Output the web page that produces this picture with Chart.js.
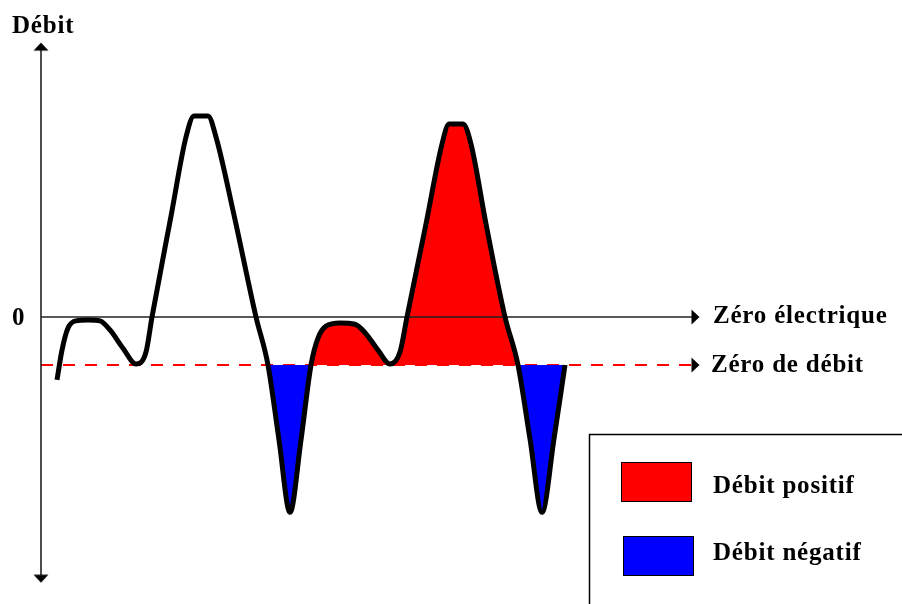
<!DOCTYPE html>
<html>
<head>
<meta charset="utf-8">
<script src="https://cdn.jsdelivr.net/npm/chart.js@4.4.1/dist/chart.umd.min.js"></script>
<style>
    html, body { margin: 0; padding: 0; background: #fff; }
    #wrap { width: 902px; height: 604px; position: relative; }
</style>
</head>
<body>
<div id="wrap"><canvas id="chart_debit"></canvas></div>
<script>
"use strict";

// time (arbitrary units) and flow (0 = zéro électrique, -1 = zéro de débit)
const curveTime = [1.6, 2.1, 2.7, 3.5, 4.7, 5.9, 6.9, 8.2, 9.5, 10.5, 11.1, 13.0, 14.5, 15.3, 16.7, 17.5, 19.3, 21.5,
    22.7, 23.8, 24.9, 26.0, 27.0, 27.7, 28.5, 29.9, 31.4, 32.5, 33.7, 34.9, 35.9, 36.6,
    38.5, 40.1, 40.8, 42.2, 43.0, 44.5, 46.4, 47.7, 48.9, 50.1, 51.3, 52.4];
const curveFlow = [-1.31, -0.69, -0.23, -0.08, -0.06, -0.08, -0.27, -0.65, -0.98, -0.73, 0, 2.10, 3.75, 4.19, 4.19, 3.75, 2.125, 0,
    -1, -2.56, -4.07, -2.56, -1, -0.44, -0.19, -0.125, -0.15, -0.35, -0.69, -0.98, -0.73, 0,
    1.94, 3.6, 4.02, 4.02, 3.6, 1.94, 0, -1, -2.54, -4.07, -2.54, -1];
const fillFrom = 18;          // the coloured zone starts at the first crossing of the zéro de débit

const zeroElec = 0;
const zeroDebit = -1;
const lineEnd = 65.1;         // end of both horizontal reference lines
const axisTop = 5.56;
const axisBottom = -5.38;

const labelAxis = "Débit";
const labelZero = "0";
const labelZeroElec = "Zéro électrique";
const labelZeroDebit = "Zéro de débit";
const legendLabels = ["Débit positif", "Débit négatif"];
const legendColors = ["#ff0000", "#0000ff"];

const toPoints = (xs, ys) => xs.map((x, i) => ({x: x, y: ys[i]}));

// small arrow head used as point style (tip at top, base at the centre)
const makeArrow = () => {
    const c = document.createElement("canvas");
    c.width = 16;
    c.height = 16;
    const g = c.getContext("2d");
    g.fillStyle = "#000";
    g.beginPath();
    g.moveTo(8, 0.5);
    g.lineTo(15.5, 8.5);
    g.lineTo(0.5, 8.5);
    g.closePath();
    g.fill();
    return c;
};
const arrow = makeArrow();

const curvePts = toPoints(curveTime, curveFlow);
const fillPts = curvePts.slice(fillFrom);

const FONT = "bold 25px 'Liberation Serif', 'Times New Roman', serif";

const textPlugin = {
    id: "texts",
    afterDraw: (chart) => {
        const ctx = chart.ctx;
        const xs = chart.scales.x;
        const ys = chart.scales.y;
        ctx.save();
        ctx.fillStyle = "#000";
        ctx.font = FONT;
        ctx.letterSpacing = "0.8px";
        ctx.textBaseline = "alphabetic";
        ctx.textAlign = "left";

        ctx.fillText(labelAxis, 12, 33);
        ctx.fillText(labelZero, 12, ys.getPixelForValue(zeroElec) + 8);
        ctx.fillText(labelZeroElec, xs.getPixelForValue(lineEnd) + 21, ys.getPixelForValue(zeroElec) + 6);
        ctx.fillText(labelZeroDebit, xs.getPixelForValue(lineEnd) + 19, ys.getPixelForValue(zeroDebit) + 7);

        // legend box
        ctx.strokeStyle = "#000";
        ctx.lineWidth = 1.5;
        ctx.strokeRect(589.5, 434.5, 400, 300);

        const boxes = [[621, 462], [623, 536]];
        const texts = [493, 560];
        ctx.lineWidth = 1;
        legendLabels.forEach((lab, i) => {
            ctx.fillStyle = legendColors[i];
            ctx.fillRect(boxes[i][0], boxes[i][1], 71, 40);
            ctx.strokeRect(boxes[i][0] + 0.5, boxes[i][1] + 0.5, 70, 39);
            ctx.fillStyle = "#000";
            ctx.fillText(lab, 713, texts[i]);
        });
        ctx.restore();
    }
};

var ctx = document.getElementById("chart_debit").getContext("2d");

var myChart = new Chart(ctx, {
    type: "line",
    data: {
        datasets: [
            {
                // débit curve
                data: curvePts,
                borderColor: "#000",
                borderWidth: 5,
                cubicInterpolationMode: "monotone",
                pointRadius: 0,
                fill: false,
                order: 0
            },
            {
                // zéro électrique
                data: toPoints([0, lineEnd], [zeroElec, zeroElec]),
                borderColor: "#222",
                borderWidth: 1.6,
                pointStyle: arrow,
                rotation: 90,
                pointRadius: [0, 5],
                fill: false,
                order: 1
            },
            {
                // y axis
                data: toPoints([0, 0], [axisTop, axisBottom]),
                borderColor: "#222",
                borderWidth: 1.6,
                pointStyle: arrow,
                rotation: [0, 180],
                pointRadius: 5,
                fill: false,
                order: 2
            },
            {
                // positive / negative zones
                data: fillPts,
                borderColor: "rgba(0,0,0,0)",
                borderWidth: 0,
                cubicInterpolationMode: "monotone",
                pointRadius: 0,
                fill: {target: {value: zeroDebit}, above: legendColors[0], below: legendColors[1]},
                order: 3
            },
            {
                // zéro de débit
                data: toPoints([0, lineEnd], [zeroDebit, zeroDebit]),
                borderColor: "#ff0000",
                borderWidth: 2,
                borderDash: [12, 10],
                pointStyle: arrow,
                rotation: 90,
                pointRadius: [0, 5],
                fill: false,
                order: 4
            }
        ]
    },
    options: {
        responsive: true,
        maintainAspectRatio: false,
        animation: false,
        layout: {padding: 0, autoPadding: false},
        scales: {
            x: {type: "linear", min: -4.1, max: 86.1, display: false},
            y: {type: "linear", min: -5.979, max: 6.604, display: false}
        },
        plugins: {
            legend: {display: false},
            tooltip: {enabled: false}
        }
    },
    plugins: [textPlugin]
});
</script>
</body>
</html>
